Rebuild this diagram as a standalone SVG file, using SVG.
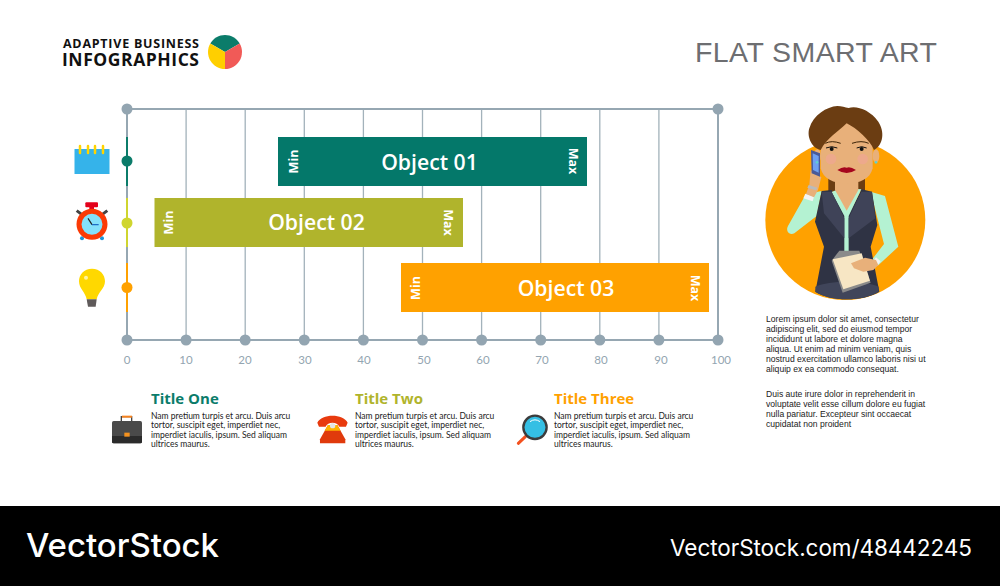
<svg xmlns="http://www.w3.org/2000/svg" width="1000" height="586" viewBox="0 0 1000 586">
<style>
text{font-family:"Open Sans","Liberation Sans",sans-serif}
.grid{stroke:#a3b2bb;stroke-width:1.300;fill:none}
.axis{stroke:#96a7b2;stroke-width:2;fill:none}
.dot{fill:#93a5b1}
.tick{font-family:Lato,"Open Sans",sans-serif;font-size:11.5px;fill:#93a5b1;text-anchor:middle}
.obj{font-size:21.2px;font-weight:600;fill:#fff;text-anchor:middle}
.mm{font-size:12.5px;font-weight:700;fill:#fff;text-anchor:middle}
.ttl{font-size:15px;font-weight:700}
.body{font-family:Lato,"Open Sans",sans-serif;font-size:8.5px;fill:#222}
.lorem{font-family:"Liberation Sans",Arial,sans-serif;font-size:8.6px;fill:#222}
.skin{fill:#e8b07a}
.hair{fill:#6b3d12}
.mint{fill:#b4f2d2}
</style>
<rect width="1000" height="586" fill="#fff"/>
<g id="header">
<text x="199" y="47.500" text-anchor="end" font-size="12.500" font-weight="700" fill="#111" textLength="136">ADAPTIVE BUSINESS</text>
<text x="199" y="65.500" text-anchor="end" font-size="17.500" font-weight="700" fill="#111" textLength="137">INFOGRAPHICS</text>
<path d="M225 52 L210.300 43.500 A17 17 0 0 1 239.700 43.500Z" fill="#0b7c6a"/>
<path d="M225 52 L239.700 43.500 A17 17 0 0 1 225 69Z" fill="#f15a57"/>
<path d="M225 52 L225 69 A17 17 0 0 1 210.300 43.500Z" fill="#ffcf00"/>
<text x="937" y="62" text-anchor="end" font-size="28.500" fill="#6d6e71" textLength="242" style="font-family:'Liberation Sans',sans-serif">FLAT SMART ART</text>
</g>
<g id="connectors">
<path class="grid" d="M186.100 109V340M245.200 109V340M304.300 109V340M363.400 109V340M422.500 109V340M481.600 109V340M540.700 109V340M599.800 109V340M658.900 109V340"/>
<path class="axis" d="M127 109H718V340H127Z"/>
<path d="M127 137V186" stroke="#0b7c6a" stroke-width="2"/>
<path d="M127 198V247" stroke="#cfd52f" stroke-width="2"/>
<path d="M127 263V312" stroke="#ffa100" stroke-width="2"/>
</g>
<g id="axis-dots">
<g class="dot"><circle cx="127" cy="109" r="5.500"/><circle cx="718" cy="109" r="5.500"/>
<circle cx="127" cy="340" r="5.500"/><circle cx="186.100" cy="340" r="5.500"/><circle cx="245.200" cy="340" r="5.500"/><circle cx="304.300" cy="340" r="5.500"/><circle cx="363.400" cy="340" r="5.500"/><circle cx="422.500" cy="340" r="5.500"/><circle cx="481.600" cy="340" r="5.500"/><circle cx="540.700" cy="340" r="5.500"/><circle cx="599.800" cy="340" r="5.500"/><circle cx="658.900" cy="340" r="5.500"/><circle cx="718" cy="340" r="5.500"/></g>
<circle cx="127" cy="161" r="5.500" fill="#0b7c6a"/><circle cx="127" cy="223" r="5.500" fill="#cfd52f"/><circle cx="127" cy="287.500" r="5.500" fill="#ffa100"/>
<g><text class="tick" x="127" y="364">0</text><text class="tick" x="186" y="364">10</text><text class="tick" x="245" y="364">20</text><text class="tick" x="305" y="364">30</text><text class="tick" x="364" y="364">40</text><text class="tick" x="424" y="364">50</text><text class="tick" x="483" y="364">60</text><text class="tick" x="542" y="364">70</text><text class="tick" x="601" y="364">80</text><text class="tick" x="661" y="364">90</text><text class="tick" x="721" y="364">100</text></g>
</g>
<g id="object-01">
<rect x="278" y="137" width="309" height="49" fill="#04786a"/>
<text class="obj" x="429.500" y="170">Object 01</text>
<text class="mm" transform="translate(298 161.500) rotate(-90)">Min</text>
<text class="mm" transform="translate(569 161) rotate(90)">Max</text>
</g>
<g id="object-02">
<rect x="154.500" y="198" width="308.500" height="49" fill="#b0b42c"/>
<text class="obj" x="316.500" y="230">Object 02</text>
<text class="mm" transform="translate(173 222.500) rotate(-90)">Min</text>
<text class="mm" transform="translate(444 222.500) rotate(90)">Max</text>
</g>
<g id="object-03">
<rect x="401" y="263" width="308" height="49" fill="#ffa100"/>
<text class="obj" x="566" y="295.500">Object 03</text>
<text class="mm" transform="translate(420 288) rotate(-90)">Min</text>
<text class="mm" transform="translate(691 288) rotate(90)">Max</text>
</g>
<g id="icon-calendar">
<rect x="74.500" y="149" width="35" height="25" fill="#35b3ea"/>
<path d="M80 146V153M88 146V153M95 146V153M103 146V153" stroke="#ffd400" stroke-width="2.500" stroke-linecap="round"/>
</g>
<g id="icon-clock" transform="translate(60 190) scale(.3333)">
<rect x="76" y="37" width="38" height="15" rx="3" fill="#e3001b"/>
<rect x="88" y="50" width="14" height="10" fill="#e3001b"/>
<path d="M50 62L66 74M142 62L126 74" stroke="#444" stroke-width="9"/>
<circle cx="66" cy="145" r="6" fill="#1b95d8"/><circle cx="126" cy="145" r="6" fill="#1b95d8"/>
<circle cx="96" cy="103" r="39" fill="#84e1fb" stroke="#fb3a05" stroke-width="15"/>
<path d="M84 85L96 104" stroke="#222" stroke-width="3.500"/><path d="M96 104H116" stroke="#1565c0" stroke-width="3.500"/>
</g>
<g id="icon-bulb" transform="translate(60 190) scale(.3333)">
<path d="M96 236C72 236 57 254 57 274C57 296 76 306 80 328H110C114 306 135 296 135 274C135 254 120 236 96 236Z" fill="#ffd800"/>
<circle cx="78" cy="263" r="6" fill="#fff3a0"/>
<path d="M80 328H110L107 350H84Z" fill="#5f5a5a"/>
</g>
<g id="icon-case" transform="translate(100 380) scale(.3333)">
<path d="M64 124V110H95V124" fill="none" stroke="#444" stroke-width="4"/><rect x="66" y="107" width="30" height="6" fill="#f5821f"/>
<rect x="36" y="123" width="90" height="67" rx="5" fill="#4a4a4a"/>
<path d="M36 168H126V185a5 5 0 0 1-5 5H41a5 5 0 0 1-5-5Z" fill="#2b2b2b"/>
<rect x="73" y="158" width="16" height="12" fill="#f5921f"/>
</g>
<g id="icon-phone" transform="translate(100 380) scale(.3333)">
<path d="M684 135H712L736 178V190H660V178Z" fill="#e03a0c"/>
<path d="M684 135H712L722 152H674Z" fill="#ffb400"/>
<path d="M652 128C665 100 730 100 743 128L738 140H718C712 124 683 124 677 140H657Z" fill="#e83a0e"/>
<circle cx="698" cy="137" r="8" fill="#e5e5e5"/>
</g>
<g id="icon-lens" transform="translate(400 380) scale(.3333)">
<path d="M377 169L355 190" stroke="#f4511e" stroke-width="9" stroke-linecap="round"/>
<circle cx="405" cy="142" r="35" fill="#35bfe4" stroke="#3c3c3c" stroke-width="7"/>
<path d="M390 125Q405 114 420 125" fill="none" stroke="#fff" stroke-width="3"/>
</g>
<g id="legend-one">
<text class="ttl" x="151" y="404" fill="#0b7c6a">Title One</text>
<text class="body"><tspan x="151" y="418.500">Nam pretium turpis et arcu. Duis arcu</tspan><tspan x="151" y="428">tortor, suscipit eget, imperdiet nec,</tspan><tspan x="151" y="437.500">imperdiet iaculis, ipsum. Sed aliquam</tspan><tspan x="151" y="447">ultrices maurus.</tspan></text>
</g>
<g id="legend-two">
<text class="ttl" x="355" y="404" fill="#b0b42c">Title Two</text>
<text class="body"><tspan x="355" y="418.500">Nam pretium turpis et arcu. Duis arcu</tspan><tspan x="355" y="428">tortor, suscipit eget, imperdiet nec,</tspan><tspan x="355" y="437.500">imperdiet iaculis, ipsum. Sed aliquam</tspan><tspan x="355" y="447">ultrices maurus.</tspan></text>
</g>
<g id="legend-three">
<text class="ttl" x="554" y="404" fill="#ffa100">Title Three</text>
<text class="body"><tspan x="554" y="418.500">Nam pretium turpis et arcu. Duis arcu</tspan><tspan x="554" y="428">tortor, suscipit eget, imperdiet nec,</tspan><tspan x="554" y="437.500">imperdiet iaculis, ipsum. Sed aliquam</tspan><tspan x="554" y="447">ultrices maurus.</tspan></text>
</g>
<g id="person" transform="translate(750 90) scale(.3333)">
<circle cx="286" cy="390" r="240" fill="#ffa100"/>
<rect class="hair" x="235" y="255" width="110" height="50"/>
<path class="mint" d="M168 312L215 303L200 378L133 430C118 438 106 422 114 408Z"/>
<path class="mint" d="M362 305L405 318L445 470L385 526L365 510L402 462Z"/>
<path d="M160 325L166 311L192 320L188 334Z" fill="#f4f4f4"/>
<path d="M368 515L378 502L392 514L382 527Z" fill="#f4f4f4"/>
<path class="skin" d="M168 312L178 285L182 240L214 262L204 300L192 322Z"/>
<path d="M176 285l26 8-4 8-26-8Z" fill="#bbb"/>
<path d="M215 303L245 300L290 385L335 298L366 305L382 405L362 470L388 605C340 635 240 635 196 605L222 470L195 395Z" fill="#2f3344"/>
<path class="mint" d="M245 306L268 296L312 296L334 298L296 378V492H283V378Z"/>
<path class="skin" d="M255 270H325V300L290 362L255 300Z"/>
<path d="M215 305L222 370L283 445V385L245 305Z M366 305L376 385L296 445V385L334 305Z" fill="#3f4358"/>
<path d="M196 590C240 570 340 570 386 590V605C340 635 240 635 196 605Z" fill="#40455a"/>
<path d="M245 512L268 482H328L362 578L278 608Z" fill="#8a8a8a"/>
<path d="M248 508L335 490L360 572L280 598Z" fill="#f7e6c4"/>
<path class="skin" d="M303 520L345 503L378 510L385 525L370 540L340 545L312 535Z"/>
<path class="skin" d="M212 95H368V235C360 268 330 280 290 280C250 280 220 268 212 235Z"/>
<ellipse class="skin" cx="202" cy="198" rx="11" ry="20"/><ellipse class="skin" cx="378" cy="198" rx="10" ry="20"/>
<path d="M183 180L210 190V260L185 250Z" fill="#4a5a98"/><path d="M188 190L206 198V248L189 240Z" fill="#6fa0f0"/>
<path class="hair" d="M212 180C185 175 170 140 178 115C190 75 230 50 262 48C275 48 285 52 296 54C320 46 360 60 385 95C405 125 400 165 372 180C360 150 320 115 290 100C265 125 230 145 212 180Z"/>
<circle cx="243" cy="207" r="16" fill="#eda98c"/><circle cx="338" cy="207" r="16" fill="#eda98c"/>
<path d="M226 160Q245 150 272 160M306 160Q335 150 356 160" stroke="#3a2206" stroke-width="3" fill="none"/>
<path d="M228 174Q245 166 262 174" stroke="#111" stroke-width="3" fill="none"/><path d="M320 174Q335 166 350 174" stroke="#111" stroke-width="3" fill="none"/>
<circle cx="245" cy="177" r="6" fill="#111"/><circle cx="335" cy="177" r="6" fill="#111"/>
<path d="M262 240Q280 228 290 233Q300 228 318 240Q290 258 262 240Z" fill="#a5051d"/>
<circle cx="378" cy="217" r="4" fill="#5fd0d0"/><circle cx="201" cy="217" r="4" fill="#5fd0d0"/>
</g>
<g id="lorem">
<text class="lorem"><tspan x="766" y="322">Lorem ipsum dolor sit amet, consectetur</tspan><tspan x="766" y="332">adipiscing elit, sed do eiusmod tempor</tspan><tspan x="766" y="342">incididunt ut labore et dolore magna</tspan><tspan x="766" y="352">aliqua. Ut enim ad minim veniam, quis</tspan><tspan x="766" y="362">nostrud exercitation ullamco laboris nisi ut</tspan><tspan x="766" y="372">aliquip ex ea commodo consequat.</tspan></text>
<text class="lorem"><tspan x="766" y="397">Duis aute irure dolor in reprehenderit in</tspan><tspan x="766" y="407">voluptate velit esse cillum dolore eu fugiat</tspan><tspan x="766" y="417">nulla pariatur. Excepteur sint occaecat</tspan><tspan x="766" y="427">cupidatat non proident</tspan></text>
</g>
<g id="banner">
<rect x="0" y="506" width="1000" height="80" fill="#000"/>
<text x="26" y="557" font-size="33" font-weight="500" fill="#fff" textLength="193" style="font-family:Inter,'Liberation Sans',sans-serif">VectorStock</text>
<text x="972" y="556" text-anchor="end" font-size="22.500" fill="#fff" textLength="302" style="font-family:Inter,'Liberation Sans',sans-serif">VectorStock.com/48442245</text>
</g>
</svg>
